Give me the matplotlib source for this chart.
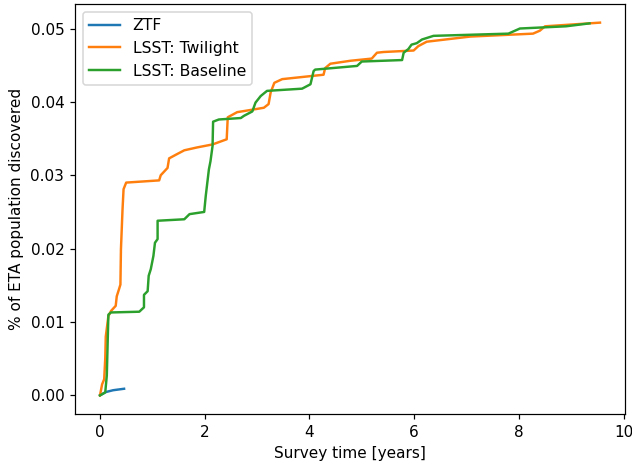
import matplotlib
matplotlib.use("Agg")
import matplotlib.pyplot as plt

ztf_t = [0.0, 0.11, 0.25, 0.46]
ztf_y = [0.0, 0.00045, 0.0007, 0.0009]

twi_t = [0.0, 0.04, 0.08, 0.10, 0.11, 0.16, 0.21, 0.30, 0.32, 0.36, 0.39, 0.40, 0.43, 0.45, 0.50,
         1.13, 1.16, 1.29, 1.32, 1.45, 1.61, 1.86, 2.15, 2.42, 2.44, 2.62, 2.88, 3.13, 3.22, 3.26,
         3.33, 3.48, 4.27, 4.30, 4.40, 4.78, 5.19, 5.29, 5.42, 5.99, 6.08, 6.24, 7.07, 8.27, 8.40,
         8.50, 9.55]
twi_y = [0.0, 0.0015, 0.0022, 0.0050, 0.0080, 0.0108, 0.0115, 0.0122, 0.0135, 0.0144, 0.0151,
         0.0199, 0.0253, 0.0281, 0.0290, 0.0293, 0.0300, 0.0310, 0.0323, 0.0328, 0.0334, 0.0338,
         0.0342, 0.0349, 0.0379, 0.0386, 0.0389, 0.0392, 0.0397, 0.0413, 0.0426, 0.0431, 0.0437,
         0.0446, 0.0452, 0.0456, 0.0459, 0.0467, 0.0468, 0.0470, 0.0476, 0.0482, 0.0489, 0.0493,
         0.0497, 0.0503, 0.0508]

base_t = [0.0, 0.10, 0.13, 0.16, 0.21, 0.75, 0.84, 0.84, 0.91, 0.93, 0.97, 1.02, 1.05, 1.10, 1.10,
          1.61, 1.71, 1.99, 2.02, 2.08, 2.11, 2.15, 2.16, 2.27, 2.69, 2.75, 2.91, 2.97, 3.07, 3.19,
          3.86, 4.02, 4.08, 4.11, 4.91, 5.00, 5.77, 5.80, 5.89, 5.95, 6.05, 6.15, 6.37, 7.80, 8.02,
          8.90, 9.35]
base_y = [0.0, 0.0004, 0.0027, 0.0110, 0.0113, 0.0114, 0.0120, 0.0137, 0.0142, 0.0163, 0.0172,
          0.0190, 0.0208, 0.0213, 0.0238, 0.0240, 0.0247, 0.0250, 0.0272, 0.0308, 0.0319, 0.0340,
          0.0373, 0.0376, 0.0378, 0.0381, 0.0387, 0.0399, 0.0408, 0.0415, 0.0418, 0.0424, 0.0442,
          0.0444, 0.0449, 0.0455, 0.0457, 0.0467, 0.0472, 0.0478, 0.0480, 0.0485, 0.0490, 0.0493,
          0.0500, 0.0503, 0.0507]

DPI = 110
fig, ax = plt.subplots(figsize=(632/DPI, 466/DPI), dpi=DPI)
fig.subplots_adjust(left=75/632, right=625/632, top=1-4/466, bottom=1-414/466)
ax.plot(ztf_t, ztf_y, label="ZTF", lw=1.6)
ax.plot(twi_t, twi_y, label="LSST: Twilight", lw=1.6)
ax.plot(base_t, base_y, label="LSST: Baseline", lw=1.6)
ax.set_xlabel("Survey time [years]")
ax.set_ylabel("% of ETA population discovered")
ax.legend(loc="upper left", fontsize=10.2)
fig.savefig("out.png", dpi=DPI)
